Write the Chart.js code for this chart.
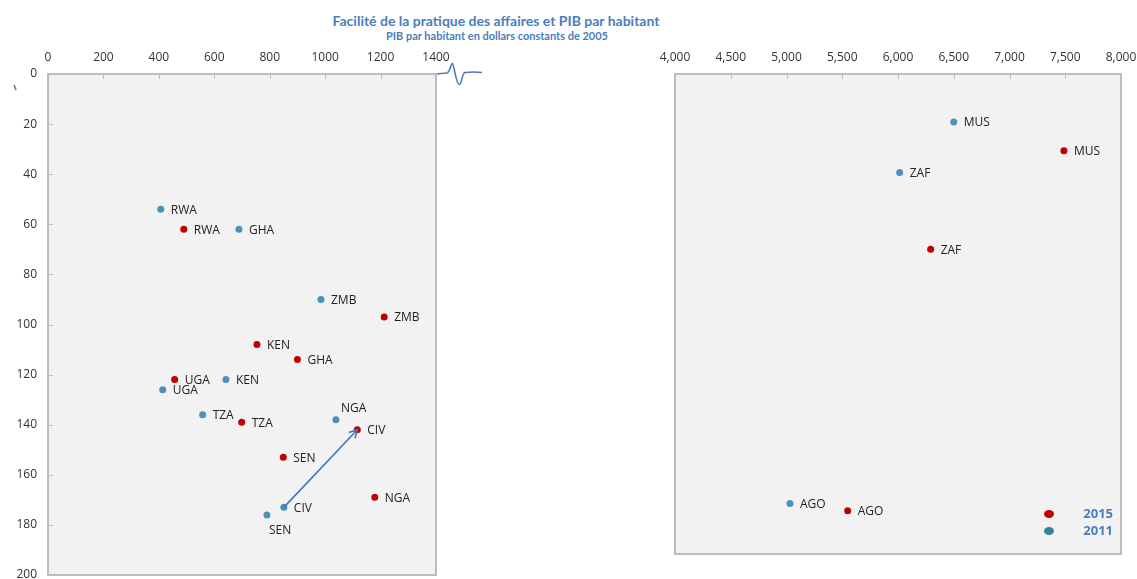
<!DOCTYPE html>
<html>
<head>
<meta charset="utf-8">
<script src="https://cdn.jsdelivr.net/npm/chart.js@4.4.0/dist/chart.umd.min.js"></script>
<style>
  body { margin: 0; background: #fff; width: 1137px; height: 579px; overflow: hidden; position: relative; }
  .title { position: absolute; left: 0; width: 992px; text-align: center; color: #4a7ebb; font-family: Lato, "Open Sans", sans-serif; font-weight: bold; white-space: nowrap; }
  #t1 { top: 12px; font-size: 14px; }
  #t2 { top: 29px; font-size: 11px; width: 994px; }
  canvas { position: absolute; top: 0; }
  #left { left: 0; }
  #right { left: 560px; }
</style>
</head>
<body>
<div class="title" id="t1">Facilité de la pratique des affaires et PIB par habitant</div>
<div class="title" id="t2">PIB par habitant en dollars constants de 2005</div>
<canvas id="left" width="560" height="579"></canvas>
<canvas id="right" width="577" height="579"></canvas>
<script>
// left panel: low income countries
const leftCodes = ['RWA', 'GHA', 'ZMB', 'KEN', 'UGA', 'TZA', 'NGA', 'CIV', 'SEN'];
const leftGdp2011 = [407, 689, 985, 642, 414, 558, 1039, 851, 790];
const leftRank2011 = [54, 62, 90, 122, 126, 136, 138, 173, 176];
const leftGdp2015 = [490, 900, 1213, 754, 457, 699, 1179, 1116, 849];
const leftRank2015 = [62, 114, 97, 108, 122, 139, 169, 142, 153];

// right panel: upper middle income countries
const rightCodes = ['MUS', 'ZAF', 'AGO'];
const rightGdp2011 = [6500, 6015, 5031];
const rightRank2011 = [20, 41, 179];
const rightGdp2015 = [7488, 6293, 5549];
const rightRank2015 = [32, 73, 182];

const years = ['2015', '2011'];
const leftXTicks = [0, 200, 400, 600, 800, 1000, 1200, 1400];
const rightXTicks = [4000, 4500, 5000, 5500, 6000, 6500, 7000, 7500, 8000];
const yTicks = [0, 20, 40, 60, 80, 100, 120, 140, 160, 180, 200];

const RED = '#c00000';
const BLUE = '#4b92ba';
const TEAL = '#31849b';
const TXT = '#222';
const FONT = '"Open Sans", sans-serif';

Chart.defaults.font.family = FONT;
Chart.defaults.font.size = 12;
Chart.defaults.color = '#333';

function pts(xs, ys, codes) {
  return xs.map((x, i) => ({ x: x, y: ys[i], code: codes[i] }));
}

function noPad(s) {
  s.paddingTop = 0; s.paddingBottom = 0; s.paddingLeft = 0; s.paddingRight = 0;
}

// grey plot box + inward tick marks
const boxPlugin = {
  id: 'box',
  beforeDraw(chart) {
    const a = chart.chartArea, ctx = chart.ctx;
    ctx.save();
    ctx.fillStyle = '#f2f2f2';
    ctx.fillRect(a.left, a.top, a.right - a.left, a.bottom - a.top);
    ctx.restore();
  },
  afterDraw(chart) {
    const a = chart.chartArea, ctx = chart.ctx;
    ctx.save();
    ctx.strokeStyle = '#bdbdbd';
    ctx.lineWidth = 2;
    ctx.strokeRect(a.left, a.top, a.right - a.left, a.bottom - a.top);
    ctx.lineWidth = 1;
    const xs = chart.scales.x;
    xs.ticks.forEach(t => {
      const p = Math.round(xs.getPixelForValue(t.value)) + 0.5;
      if (p < a.left + 3 || p > a.right - 3) return;
      ctx.beginPath(); ctx.moveTo(p, a.top); ctx.lineTo(p, a.top + 5); ctx.stroke();
    });
    const ys = chart.scales.y;
    if (ys.options.display) {
      ys.ticks.forEach(t => {
        const p = Math.round(ys.getPixelForValue(t.value)) + 0.5;
        if (p < a.top + 3 || p > a.bottom - 3) return;
        ctx.beginPath(); ctx.moveTo(a.left, p); ctx.lineTo(a.left + 5, p); ctx.stroke();
      });
    }
    ctx.restore();
  }
};

// country codes next to the points
const labelPlugin = {
  id: 'codes',
  afterDatasetsDraw(chart) {
    const ctx = chart.ctx;
    ctx.save();
    ctx.font = '12px ' + FONT;
    ctx.fillStyle = TXT;
    ctx.textBaseline = 'middle';
    ctx.textAlign = 'left';
    chart.data.datasets.forEach((ds, di) => {
      const meta = chart.getDatasetMeta(di);
      meta.data.forEach((el, i) => {
        const code = ds.data[i].code;
        const key = ds.label + code;
        let dx = 10, dy = 1;
        if (key === '2011SEN') { dx = 2; dy = 16; }
        if (key === '2011NGA') { dx = 5; dy = -11; }
        ctx.fillText(code, el.x + dx, el.y + dy);
      });
    });
    ctx.restore();
  }
};

// arrow from CIV 2011 to CIV 2015, plus the axis break mark
const arrowPlugin = {
  id: 'arrow',
  afterDatasetsDraw(chart) {
    if (chart.canvas.id !== 'left') return;
    const i = leftCodes.indexOf('CIV');
    const to = chart.getDatasetMeta(0).data[i];
    const from = chart.getDatasetMeta(1).data[i];
    const ctx = chart.ctx;
    const ang = Math.atan2(to.y - from.y, to.x - from.x);
    ctx.save();
    ctx.strokeStyle = '#4472c4';
    ctx.lineWidth = 1.6;
    ctx.beginPath(); ctx.moveTo(from.x, from.y); ctx.lineTo(to.x, to.y); ctx.stroke();
    ctx.beginPath();
    ctx.moveTo(to.x - 9 * Math.cos(ang - 0.5), to.y - 9 * Math.sin(ang - 0.5));
    ctx.lineTo(to.x, to.y);
    ctx.lineTo(to.x - 9 * Math.cos(ang + 0.5), to.y - 9 * Math.sin(ang + 0.5));
    ctx.stroke();
    const a = chart.chartArea;
    ctx.strokeStyle = '#4a7ebb';
    ctx.beginPath();
    ctx.moveTo(a.right, a.top);
    ctx.lineTo(a.right + 11, a.top - 1);
    ctx.bezierCurveTo(a.right + 14, a.top - 2, a.right + 15, a.top - 11, a.right + 16.5, a.top - 10.5);
    ctx.bezierCurveTo(a.right + 18, a.top - 10, a.right + 20, a.top + 11, a.right + 23.5, a.top + 10.5);
    ctx.bezierCurveTo(a.right + 26, a.top + 10, a.right + 26, a.top - 1, a.right + 29, a.top - 1.5);
    ctx.quadraticCurveTo(a.right + 38, a.top - 2.5, a.right + 46, a.top - 1.5);
    ctx.stroke();
    ctx.beginPath();
    ctx.moveTo(14, 85); ctx.lineTo(16, 90);
    ctx.stroke();
    ctx.restore();
  }
};

// 2015 / 2011 key inside the right panel
const keyPlugin = {
  id: 'key',
  afterDraw(chart) {
    if (chart.canvas.id !== 'right') return;
    const a = chart.chartArea, ctx = chart.ctx;
    const cols = [RED, TEAL];
    ctx.save();
    ctx.font = 'bold 13px ' + FONT;
    ctx.textAlign = 'right';
    ctx.textBaseline = 'middle';
    years.forEach((yr, k) => {
      const y = a.bottom - 40 + k * 17;
      ctx.fillStyle = cols[k];
      ctx.beginPath(); ctx.ellipse(a.right - 72, y, 5, 4, 0, 0, Math.PI * 2); ctx.fill();
      ctx.fillStyle = '#4a7ebb';
      ctx.fillText(yr, a.right - 8, y + 0.5);
    });
    ctx.restore();
  }
};

function makeCfg(d2015, d2011, xTicks, xFmt, showY, pad) {
  return {
    type: 'scatter',
    data: {
      datasets: [
        { label: '2015', data: d2015, backgroundColor: RED, borderColor: RED, pointRadius: 3.5, pointBorderWidth: 0 },
        { label: '2011', data: d2011, backgroundColor: BLUE, borderColor: BLUE, pointRadius: 3.5, pointBorderWidth: 0 }
      ]
    },
    options: {
      responsive: false,
      animation: false,
      events: [],
      layout: { padding: pad },
      plugins: { legend: { display: false }, tooltip: { enabled: false } },
      scales: {
        x: {
          type: 'linear', position: 'top',
          min: xTicks[0], max: xTicks[xTicks.length - 1],
          afterBuildTicks: s => { s.ticks = xTicks.map(v => ({ value: v })); },
          ticks: { padding: 9, callback: xFmt, maxRotation: 0 },
          grid: { display: false, drawTicks: false },
          border: { display: false },
          afterFit: s => { s.height = 74; noPad(s); }
        },
        y: {
          type: 'linear', position: 'left', reverse: true,
          display: showY,
          min: 0, max: 200,
          afterBuildTicks: s => { s.ticks = yTicks.map(v => ({ value: v })); },
          ticks: { padding: 11 },
          grid: { display: false, drawTicks: false },
          border: { display: false },
          afterFit: s => { s.width = showY ? 48 : 0; noPad(s); }
        }
      }
    },
    plugins: [boxPlugin, labelPlugin, arrowPlugin, keyPlugin]
  };
}

const chartLeft = new Chart(document.getElementById('left').getContext('2d'),
  makeCfg(pts(leftGdp2015, leftRank2015, leftCodes), pts(leftGdp2011, leftRank2011, leftCodes),
    leftXTicks, v => String(v), true, { left: 0, right: 124, top: 0, bottom: 4 }));

const chartRight = new Chart(document.getElementById('right').getContext('2d'),
  makeCfg(pts(rightGdp2015, rightRank2015, rightCodes), pts(rightGdp2011, rightRank2011, rightCodes),
    rightXTicks, v => v.toLocaleString('en-US'), false, { left: 115, right: 16, top: 0, bottom: 25 }));
</script>
</body>
</html>
